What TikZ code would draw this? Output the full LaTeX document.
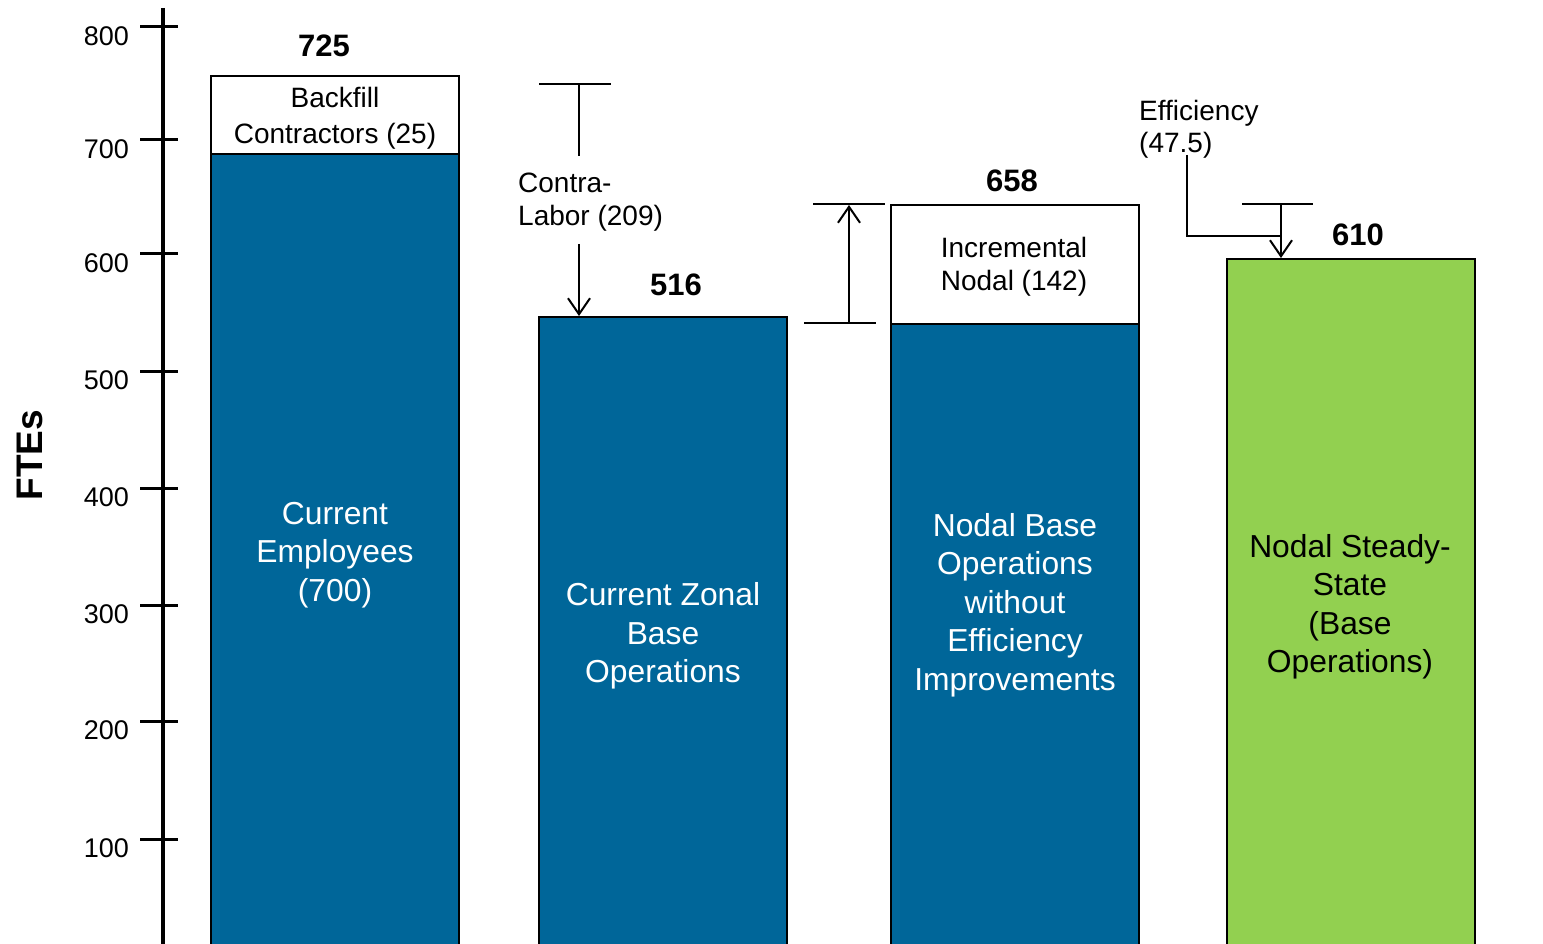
\documentclass[tikz,border=0pt]{standalone}
\usepackage{fontspec}
\setmainfont{Liberation Sans}
\usetikzlibrary{arrows.meta}
\definecolor{barblue}{RGB}{0,102,153}
\definecolor{bargreen}{RGB}{146,208,80}
\begin{document}
\begin{tikzpicture}[x=1pt,y=-1pt,
  barbox/.style={draw=black,line width=2.2pt,anchor=north west,inner sep=0pt,minimum width=248pt},
  bigtxt/.style={align=center,inner sep=0pt,font=\fontsize{31.8}{38.5}\selectfont},
  smalltxt/.style={align=center,inner sep=0pt,font=\fontsize{28}{33.5}\selectfont},
  valtxt/.style={inner sep=0pt,font=\fontsize{31}{36}\selectfont\bfseries},
  ticktxt/.style={anchor=east,inner sep=0pt,font=\fontsize{27}{30}\selectfont},
  capline/.style={line width=2.8pt},
  conn/.style={line width=2pt},
  tip/.style={conn,-{Straight Barb[length=16pt,width=22pt]}}]
\useasboundingbox (0,0) rectangle (1543,944);
\clip (0,0) rectangle (1543,944);

% value axis
\draw[line width=4pt] (163,8) -- (163,950);
\foreach \v/\y in {800/27,700/140,600/254,500/371,400/488,300/605,200/721,100/839}{
  \draw[line width=3pt] (140,\y) -- (178,\y);
  \node[ticktxt] at (129,\y+9) {\v};
}
\node[rotate=90,inner sep=0pt,font=\fontsize{37}{40}\selectfont\bfseries] (ylab) at (30,455) {FTEs};

% bars
\node[barbox,fill=white,minimum height=78pt] (backfill) at (210,75) {};
\node[barbox,fill=barblue,minimum height=820pt] (employees) at (210,153) {};
\node[barbox,fill=barblue,minimum height=660pt] (zonal) at (538,316) {};
\node[barbox,fill=white,minimum height=119pt] (incremental) at (890,204) {};
\node[barbox,fill=barblue,minimum height=660pt] (nodalbase) at (890,323) {};
\node[barbox,fill=bargreen,minimum height=720pt] (steady) at (1226,258) {};

% bar labels
\node[smalltxt,font=\fontsize{28}{36}\selectfont] at (335,118) {Backfill\\Contractors (25)};
\node[bigtxt,text=white] at (335,555) {Current\\Employees\\(700)};
\node[bigtxt,text=white] at (663,636) {Current Zonal\\Base\\Operations};
\node[smalltxt] at (1014,267) {Incremental\\Nodal (142)};
\node[bigtxt,text=white] at (1015,605) {Nodal Base\\Operations\\without\\Efficiency\\Improvements};
\node[bigtxt] at (1350,607) {Nodal Steady-\\State\\(Base\\Operations)};

% totals
\node[valtxt] (v725) at (324,46) {725};
\node[valtxt] (v516) at (676,285) {516};
\node[valtxt] (v658) at (1012,181) {658};
\node[valtxt] (v610) at (1358,235) {610};

% contra-labor step down
\coordinate (clL) at (539,84);
\coordinate (clR) at (611,84);
\coordinate (clTop) at (579,84);
\coordinate (clMid) at (579,156);
\coordinate (clFrom) at (579,244);
\coordinate (clTo) at (579,316);
\draw[capline] (clL) -- (clR);
\draw[conn] (clTop) -- (clMid);
\node[smalltxt,align=left,anchor=west] (contra) at (518,202) {Contra-\\Labor (209)};
\draw[tip] (clFrom) -- (clTo);

% incremental nodal step up
\coordinate (inTopL) at (813,204);
\coordinate (inTopR) at (885,204);
\coordinate (inBotL) at (804,323);
\coordinate (inBotR) at (876,323);
\coordinate (inFrom) at (849,323);
\coordinate (inTo) at (849,205);
\draw[capline] (inTopL) -- (inTopR);
\draw[capline] (inBotL) -- (inBotR);
\draw[tip] (inFrom) -- (inTo);

% efficiency step down
\node[smalltxt,align=left,anchor=west,font=\fontsize{28}{32}\selectfont] (eff) at (1139,129) {Efficiency\\(47.5)};
\coordinate (efA) at (1187,155);
\coordinate (efB) at (1187,236);
\coordinate (efC) at (1281,236);
\coordinate (efL) at (1242,204);
\coordinate (efR) at (1313,204);
\coordinate (efTop) at (1281,204);
\coordinate (efTo) at (1281,258);
\draw[conn] (efA) -- (efB) -- (efC);
\draw[capline] (efL) -- (efR);
\draw[tip] (efTop) -- (efTo);
\end{tikzpicture}
\end{document}
